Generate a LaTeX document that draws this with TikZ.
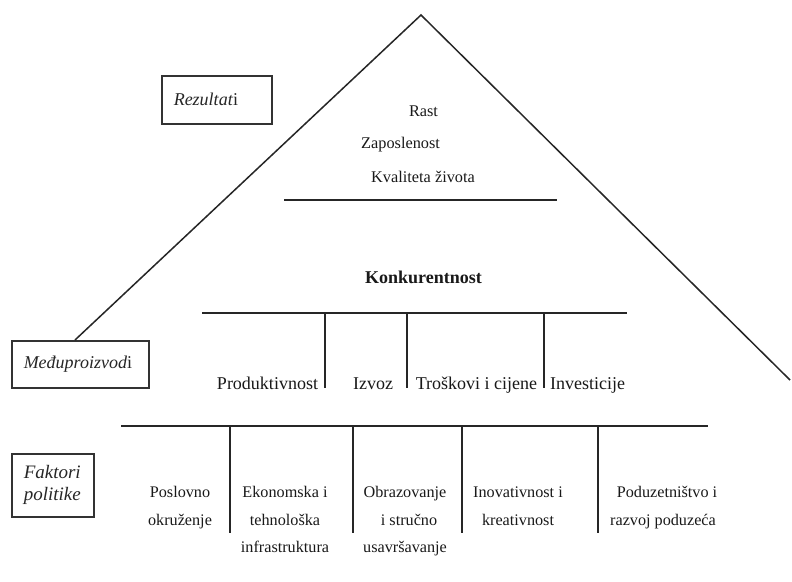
\documentclass[tikz,border=0pt]{standalone}
\usepackage{fontspec}
\setmainfont{Liberation Serif}
\usetikzlibrary{calc}
\begin{document}
\begin{tikzpicture}[x=1pt,y=-1pt,
  ln/.style={line width=1.5pt, draw=black!85},
  lbox/.style={draw=black!80, line width=1.5pt, rectangle, inner xsep=12pt, inner ysep=0pt,
    align=left, anchor=north west, font=\fontsize{18}{22}\selectfont\itshape, text=black!85},
  tx/.style={inner sep=0pt, anchor=base, font=\fontsize{16.3}{20}\selectfont, text=black!90},
  mid/.style={inner sep=0pt, anchor=base, font=\fontsize{18}{22}\selectfont, text=black!90},
  low/.style={inner sep=0pt, anchor=base, align=center, font=\fontsize{16.2}{27.5}\selectfont, text=black!90}
]
\useasboundingbox (0,0) rectangle (792,581);
\fill[white] (0,0) rectangle (792,581);

% side labels
\node[lbox, text width=86pt, minimum height=48pt] (rez) at (161,75) {Rezultat\textup{i}};
\node[lbox, text width=113pt, minimum height=47pt] (mp) at (11,340) {Međuproizvod\textup{i}};
\node[lbox, text width=58pt, minimum height=63pt, font=\fontsize{19}{22}\selectfont\itshape] (fp) at (11,453) {Faktori\\politike};

% pyramid
\coordinate (apex) at (421,15);
\coordinate (rend) at (790,380);
\draw[ln] ($(mp.north west)+(64,0)$) -- (apex) -- (rend);

% results
\node[tx] (rast) at (423.5,116) {Rast};
\node[tx, anchor=base west] (zap) at (361,148) {Zaposlenost};
\node[tx, anchor=base west] (kz) at (371,182) {Kvaliteta života};
\coordinate (r1) at (284,200);
\coordinate (r2) at (557,200);
\draw[ln] (r1) -- (r2);

% competitiveness
\node[mid, font=\fontsize{18}{22}\selectfont\bfseries] (konk) at (423.5,283) {Konkurentnost};
\coordinate (h1) at (202,313);
\coordinate (h2) at (627,313);
\draw[ln] (h1) -- (h2);
\foreach \x/\n in {325/a,407/b,544/c}{
  \coordinate (u\n) at (\x,313);
  \coordinate (ub\n) at (\x,388);
  \draw[ln] (u\n) -- (ub\n);
}
\node[mid] (prod) at (267.5,389) {Produktivnost};
\node[mid] (izv) at (373,389) {Izvoz};
\node[mid] (tro) at (476.5,389) {Troškovi i cijene};
\node[mid] (inv) at (587.5,389) {Investicije};

% policy factors
\coordinate (g1) at (121,426);
\coordinate (g2) at (708,426);
\draw[ln] (g1) -- (g2);
\foreach \x/\n in {230/a,353/b,462/c,598/d}{
  \coordinate (l\n) at (\x,426);
  \coordinate (lb\n) at (\x,533);
  \draw[ln] (l\n) -- (lb\n);
}
\node[low] (pos) at (180,525) {Poslovno\\okruženje};
\node[low] (eko) at (285,552.5) {Ekonomska i\\tehnološka\\infrastruktura};
\node[low] (obr) at (405,552.5) {Obrazovanje\\\ \ i  stručno\\usavršavanje};
\node[low] (ino) at (518,525) {Inovativnost i\\kreativnost};
\node[low] (pod) at (663,525) {\ \ Poduzetništvo i\\razvoj poduzeća};
\end{tikzpicture}
\end{document}
